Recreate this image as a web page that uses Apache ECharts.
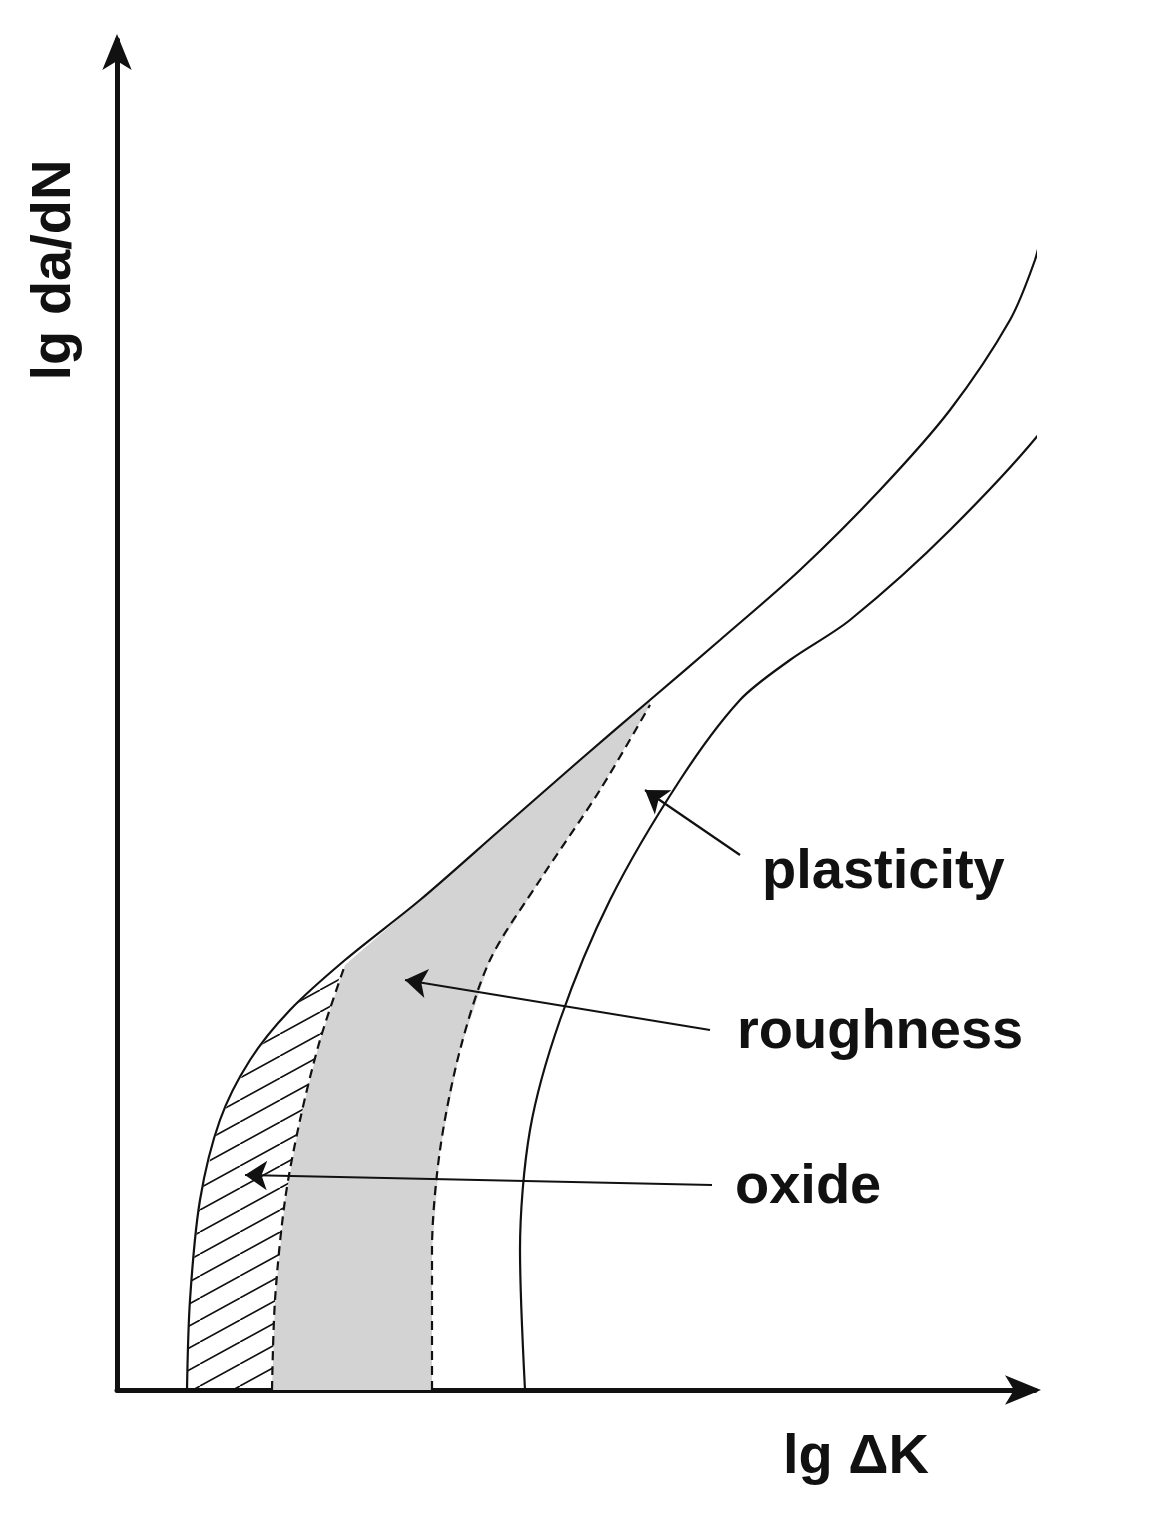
<!DOCTYPE html>
<html><head><meta charset="utf-8">
<script src="https://cdn.jsdelivr.net/npm/echarts@6/dist/echarts.min.js"></script>
<style>html,body{margin:0;background:#fff}#c{width:1153px;height:1518px}</style>
</head><body><div id="c"></div>
<script>
// values (schematic units: x = lg ΔK, y = lg da/dN)
const outerCurve = [[408,0],[403,140],[413,260],[443,370],[493,490],[563,610],[623,690],[673,730],[733,770],[833,860],[933,970],[983,1060],[998,1160]];
const mainCurve = [[70,0],[73,90],[83,190],[103,270],[133,330],[173,380],[228,430],[303,490],[383,560],[463,630],[533,690],[603,750],[683,820],[763,900],[833,980],[893,1070],[918,1130],[925,1160]];
const dashedRight = [[315,0],[315,140],[323,240],[343,340],[373,430],[423,510],[483,600],[533,685]];
const dashedLeft = [[155,0],[158,90],[168,190],[183,270],[203,350],[228,425]];
const roughTop = [[228,430],[303,490],[383,560],[463,630],[533,690]];
const oxideOuter = [[70,0],[73,90],[83,190],[103,270],[133,330],[173,380],[228,430]];
const arrows = [
  {from:[623,535], to:[528,600]},
  {from:[593,360], to:[288,410]},
  {from:[595,205], to:[128,215]}
];
const labels = [
  {text:'plasticity', at:[645,517]},
  {text:'roughness', at:[620,357]},
  {text:'oxide', at:[618,202]}
];

const grayPoly = dashedLeft.concat(roughTop.slice(1)).concat(dashedRight.slice().reverse());
const hatchPoly = oxideOuter.concat(dashedLeft.slice(0,-1).reverse());

const pat = document.createElement('canvas');
pat.width = 40; pat.height = 22;
const g = pat.getContext('2d');
g.strokeStyle = '#111'; g.lineWidth = 1.6;
g.beginPath(); g.moveTo(0,22); g.lineTo(40,0); g.moveTo(-40,22); g.lineTo(0,0); g.moveTo(40,22); g.lineTo(80,0); g.stroke();

const FONT = 'bold 56px "Liberation Sans"';
function polySeries(pts, fill){
  return {type:'custom', data:[0], silent:true, z:1, clip:false,
    renderItem:(p,api)=>({type:'polygon', shape:{points:pts.map(q=>api.coord(q)), smooth:0}, style:{fill:fill, stroke:null}})};
}
function line(pts, dashed){
  return {type:'line', data:pts, smooth:0.3, symbol:'none', z:3, clip:false,
    lineStyle:{color:'#111', width:2.2, type: dashed?[9,6]:'solid'}};
}
const chart = echarts.init(document.getElementById('c'));
chart.setOption({
  animation:false,
  grid:{left:117, right:118, top:40, bottom:128},
  xAxis:{type:'value', min:0, max:918, axisLine:{onZero:false, lineStyle:{color:'#111', width:5}, symbol:['none','arrow'], symbolSize:[22,36], symbolOffset:[0,6]},
    axisTick:{show:false}, axisLabel:{show:false}, splitLine:{show:false}},
  yAxis:{type:'value', min:0, max:1350, axisLine:{onZero:false, lineStyle:{color:'#111', width:5}, symbol:['none','arrow'], symbolSize:[22,36], symbolOffset:[0,6]},
    axisTick:{show:false}, axisLabel:{show:false}, splitLine:{show:false}},
  graphic:[
    {type:'text', x:783, y:1458, style:{text:'lg ΔK', font:FONT, fill:'#111', textVerticalAlign:'middle'}},
    {type:'text', x:55, y:270, rotation:Math.PI/2, style:{text:'lg da/dN', font:FONT, fill:'#111', textAlign:'center', textVerticalAlign:'middle'}}
  ].concat(labels.map(l=>({type:'text', z:10, style:{text:l.text, font:FONT, fill:'#111', textVerticalAlign:'middle'}, x:117+l.at[0], y:1390-l.at[1]}))),
  series:[
    polySeries(grayPoly, '#d3d3d3'),
    polySeries(hatchPoly, {image:pat, repeat:'repeat'}),
    line(outerCurve,false), line(mainCurve,false), line(dashedRight,true), line(dashedLeft,true),
    {type:'lines', coordinateSystem:'cartesian2d', z:4, symbol:['none','arrow'], symbolSize:22,
      lineStyle:{color:'#111', width:2.2, opacity:1},
      data:arrows.map(a=>({coords:[a.from,a.to]}))}
  ]
});
</script></body></html>
